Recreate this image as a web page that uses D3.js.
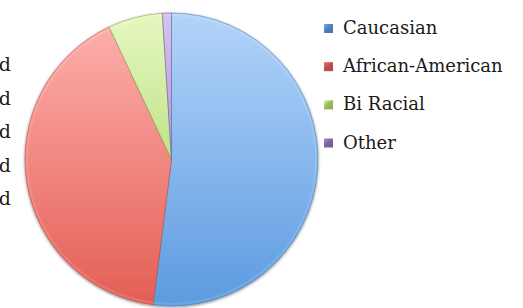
<!DOCTYPE html>
<html>
<head>
<meta charset="utf-8">
<script src="https://cdn.jsdelivr.net/npm/d3@7"></script>
<style>
  body { margin: 0; background: #fff; }
  svg { display: block; }
  text { font-family: "DejaVu Serif", serif; fill: #1a1a1a; }
</style>
</head>
<body>
<div id="chart"></div>
<script>
// data (percent of total)
const categories = ['Caucasian', 'African-American', 'Bi Racial', 'Other'];
const values = [52, 41, 6, 1];
// cut-off labels at the left edge of the slide
const sideLabels = ['d', 'd', 'd', 'd', 'd'];

// gradient stops per slice (top, bottom) and legend swatch colors
const sliceTop = ['#b3d4f9', '#ffb2af', '#e6f8c0', '#d3c3f1'];
const sliceBottom = ['#5c9be0', '#e35e54', '#9acd55', '#8c6fc3'];
const swatch = ['#4f81bd', '#c0504d', '#9bbb59', '#8064a2'];

const width = 523;
const height = 308;
const cx = 171.5;
const cy = 159.5;
const radius = 146.5;

const svg = d3.select('#chart')
  .append('svg')
    .attr('width', width)
    .attr('height', height);

const defs = svg.append('defs');

// soft shadow round the pie
const shadow = defs.append('filter')
  .attr('id', 'shadow')
  .attr('x', '-10%').attr('y', '-10%')
  .attr('width', '120%').attr('height', '120%');
shadow.append('feGaussianBlur')
  .attr('in', 'SourceAlpha')
  .attr('stdDeviation', 1.8);
shadow.append('feOffset').attr('dx', 0).attr('dy', 1);
shadow.append('feComponentTransfer')
  .append('feFuncA').attr('type', 'linear').attr('slope', 0.5);
const merge = shadow.append('feMerge');
merge.append('feMergeNode');
merge.append('feMergeNode').attr('in', 'SourceGraphic');

categories.forEach((c, i) => {
  // user space of the pie group: centre at 0,0
  const g = defs.append('linearGradient')
    .attr('id', 'grad' + i)
    .attr('gradientUnits', 'userSpaceOnUse')
    .attr('x1', 0).attr('y1', -radius)
    .attr('x2', 0).attr('y2', radius);
  g.append('stop').attr('offset', 0).attr('stop-color', sliceTop[i]);
  g.append('stop').attr('offset', 1).attr('stop-color', sliceBottom[i]);

  const s = defs.append('linearGradient')
    .attr('id', 'sw' + i)
    .attr('x1', 0).attr('y1', 0).attr('x2', 1).attr('y2', 1);
  s.append('stop').attr('offset', 0).attr('stop-color', d3.color(swatch[i]).brighter(0.9));
  s.append('stop').attr('offset', 0.45).attr('stop-color', swatch[i]);
  s.append('stop').attr('offset', 1).attr('stop-color', d3.color(swatch[i]).darker(0.3));
});

// left edge labels (cut by the frame)
const labelY = d3.scalePoint()
  .domain(d3.range(sideLabels.length))
  .range([71, 205]);

svg.selectAll('.side')
  .data(sideLabels)
  .join('text')
    .attr('class', 'side')
    .attr('x', 11)
    .attr('y', (d, i) => labelY(i))
    .attr('text-anchor', 'end')
    .attr('font-size', '19px')
    .text(d => d);

// pie, clockwise from 12 o'clock
const pie = d3.pie()
  .sort(null)
  .value(d => d);

const arcs = pie(values);

const arc = d3.arc()
  .innerRadius(0)
  .outerRadius(radius);

const pieG = svg.append('g')
  .attr('transform', `translate(${cx},${cy})`)
  .attr('filter', 'url(#shadow)');

pieG.selectAll('.slice')
  .data(arcs)
  .join('path')
    .attr('class', 'slice')
    .attr('d', arc)
    .attr('fill', (d, i) => `url(#grad${i})`)
    .attr('stroke', (d, i) => d3.color(sliceBottom[i]).darker(0.6))
    .attr('stroke-opacity', 0.6)
    .attr('stroke-width', 0.9)
    .attr('stroke-linejoin', 'round');

// light bevel on the rim
pieG.selectAll('.rim')
  .data(arcs)
  .join('path')
    .attr('class', 'rim')
    .attr('d', d3.arc().innerRadius(radius - 3).outerRadius(radius - 1))
    .attr('fill', '#fff')
    .attr('fill-opacity', 0.12);

// legend
const legendY = d3.scalePoint()
  .domain(categories)
  .range([28.5, 143]);

const item = svg.append('g')
  .selectAll('g')
  .data(categories)
  .join('g')
    .attr('transform', d => `translate(324,${legendY(d)})`);

item.append('rect')
  .attr('x', 0)
  .attr('y', -4.5)
  .attr('width', 9)
  .attr('height', 9)
  .attr('fill', (d, i) => `url(#sw${i})`);

item.append('text')
  .attr('x', 19)
  .attr('y', 5.5)
  .attr('font-size', '18px')
  .text(d => d);
</script>
</body>
</html>
